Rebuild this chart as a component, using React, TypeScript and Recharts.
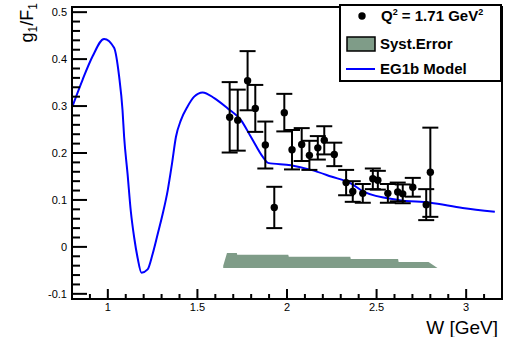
import React from "react";
import {
  ComposedChart,
  Line,
  Area,
  Scatter,
  ErrorBar,
  XAxis,
  YAxis,
} from "recharts";

// EG1b model curve
const modelW = [
  0.803, 0.859, 0.915, 0.979, 1.035, 1.063, 1.082, 1.091, 1.11, 1.128, 1.147, 1.166, 1.188,
  1.222, 1.25, 1.278, 1.306, 1.334, 1.358, 1.38, 1.408, 1.445, 1.482, 1.529, 1.594, 1.669,
  1.743, 1.799, 1.866, 1.894, 2.022, 2.134, 2.246, 2.358, 2.43, 2.62, 2.8, 2.98, 3.16,
];
const modelG = [
  0.3, 0.356, 0.406, 0.443, 0.424, 0.363, 0.291, 0.234, 0.156, 0.077, 0.02, -0.023, -0.055,
  -0.048, -0.015, 0.027, 0.07, 0.12, 0.177, 0.234, 0.27, 0.299, 0.32, 0.329, 0.317, 0.295,
  0.27, 0.234, 0.191, 0.179, 0.174, 0.164, 0.15, 0.135, 0.117, 0.1, 0.094, 0.083, 0.075,
];

// data points, Q^2 = 1.71 GeV^2
const dataW = [
  1.68, 1.725, 1.78, 1.823, 1.879, 1.929, 1.985, 2.028, 2.082, 2.125, 2.172, 2.208, 2.264,
  2.33, 2.367, 2.423, 2.479, 2.507, 2.563, 2.618, 2.646, 2.702, 2.777, 2.8,
];
const dataG = [
  0.276, 0.27, 0.354, 0.295, 0.217, 0.084, 0.286, 0.207, 0.218, 0.195, 0.211, 0.227, 0.197,
  0.137, 0.118, 0.114, 0.145, 0.142, 0.114, 0.117, 0.113, 0.127, 0.09, 0.159,
];
const dataErr = [
  0.075, 0.065, 0.063, 0.05, 0.05, 0.044, 0.04, 0.042, 0.035, 0.031, 0.025, 0.03, 0.025,
  0.027, 0.022, 0.02, 0.022, 0.02, 0.02, 0.02, 0.02, 0.02, 0.033, 0.095,
];

// systematic error band
const systW = [1.644, 1.665, 1.72, 1.722, 2.007, 2.01, 2.353, 2.356, 2.62, 2.623, 2.79, 2.84];
const systTop = [-0.04, -0.013, -0.013, -0.017, -0.017, -0.021, -0.021, -0.026, -0.026, -0.032, -0.032, -0.045];
const systBase = -0.045;

const xMajor = [1, 1.5, 2, 2.5, 3];
const yMajor = [-0.1, 0, 0.1, 0.2, 0.3, 0.4, 0.5];
const xDomain = [0.8, 3.2];
const yDomain = [-0.111, 0.511];

const xTicks: number[] = [];
for (let i = 8; i <= 32; i++) xTicks.push(i / 10);
const yTicks: number[] = [];
for (let i = -5; i <= 25; i++) yTicks.push(Math.round(i * 2) / 100);

const isMajor = (v: number, list: number[]) => list.some((m) => Math.abs(m - v) < 1e-6);

const modelData = modelW.map((w, i) => ({ w, g: modelG[i] }));
const pointData = dataW.map((w, i) => ({ w, g: dataG[i], err: dataErr[i] }));
const systData = systW.map((w, i) => ({ w, band: [systBase, systTop[i]] }));

// chart box
const W = 506;
const H = 337;
const margin = { top: 7, right: 4, left: 32, bottom: 8 };
const yAxisW = 40;
const xAxisH = 30;
const plotL = margin.left + yAxisW;
const plotR = W - margin.right;
const plotT = margin.top;
const plotB = H - margin.bottom - xAxisH;
const px = (v: number) => plotL + ((v - xDomain[0]) / (xDomain[1] - xDomain[0])) * (plotR - plotL);
const py = (v: number) => plotB - ((v - yDomain[0]) / (yDomain[1] - yDomain[0])) * (plotB - plotT);

const FONT = "'Liberation Sans', Arial, sans-serif";

function XTick({ x, y, payload }: any) {
  if (!isMajor(payload.value, xMajor)) return <g />;
  return (
    <text x={Number(x)} y={Number(y) + 12} textAnchor="middle" fontSize={11} fontFamily={FONT} fill="#000">
      {payload.value}
    </text>
  );
}

function YTick({ x, y, payload }: any) {
  if (!isMajor(payload.value, yMajor)) return <g />;
  return (
    <text x={Number(x) - 5} y={Number(y) + 4} textAnchor="end" fontSize={11} fontFamily={FONT} fill="#000">
      {Math.round(payload.value * 10) / 10}
    </text>
  );
}

function Dot({ cx, cy }: any) {
  return <circle cx={cx} cy={cy} r={3.7} fill="#000" />;
}

export default function App() {
  return (
    <div style={{ position: "absolute", left: 0, top: 0, width: W, height: H, background: "#fff" }}>
      <ComposedChart width={W} height={H} margin={margin}>
        <XAxis
          type="number"
          dataKey="w"
          domain={xDomain}
          ticks={xTicks}
          interval={0}
          allowDataOverflow
          tickSize={0}
          tickMargin={0}
          tickLine={false}
          height={xAxisH}
          axisLine={{ stroke: "#000", strokeWidth: 2 }}
          tick={<XTick />}
        />
        <YAxis
          type="number"
          domain={yDomain}
          ticks={yTicks}
          interval={0}
          allowDataOverflow
          tickSize={0}
          tickMargin={0}
          tickLine={false}
          width={yAxisW}
          axisLine={{ stroke: "#000", strokeWidth: 2 }}
          tick={<YTick />}
        />
        <Area
          data={systData}
          dataKey="band"
          type="linear"
          stroke="none"
          fill="#7f9c88"
          fillOpacity={1}
          isAnimationActive={false}
        />
        <Line
          data={modelData}
          dataKey="g"
          type="monotone"
          stroke="#0000ff"
          strokeWidth={2}
          dot={false}
          isAnimationActive={false}
        />
        <Scatter data={pointData} dataKey="g" shape={<Dot />} isAnimationActive={false}>
          <ErrorBar dataKey="err" direction="y" width={8} stroke="#000" strokeWidth={2} />
        </Scatter>
      </ComposedChart>
      <svg
        width={W}
        height={H}
        style={{ position: "absolute", left: 0, top: 0, pointerEvents: "none" }}
        fontFamily={FONT}
      >
        {/* frame and inward ROOT-style tick marks, drawn as thin filled bars */}
        <rect x={plotL} y={plotT} width={plotR - plotL} height={plotB - plotT} fill="none" stroke="#000" strokeWidth={2} />
        {xTicks.map((t) => {
          const len = isMajor(t, xMajor) ? 10 : 5;
          return <rect key={"x" + t} x={px(t) - 1} y={plotB - len} width={2} height={len} fill="#000" />;
        })}
        {yTicks.map((t) => {
          const len = isMajor(t, yMajor) ? 15 : 8;
          return <rect key={"y" + t} x={plotL} y={py(t) - 1} width={len} height={2} fill="#000" />;
        })}
        <text transform="translate(33,3) rotate(-90)" textAnchor="end" fontSize={18} fill="#000">
          g<tspan dy={4} fontSize={12}>1</tspan>
          <tspan dy={-4}>/F</tspan>
          <tspan dy={4} fontSize={12}>1</tspan>
        </text>
        <text x={498} y={334} textAnchor="end" fontSize={19} fill="#000">
          W [GeV]
        </text>
        <rect x={340} y={5} width={161} height={76} fill="#fff" stroke="#000" strokeWidth={2} />
        <circle cx={362} cy={16} r={3.7} fill="#000" />
        <text x={381} y={21} fontSize={15} fontWeight="bold" fill="#000">
          Q<tspan dy={-6} fontSize={9}>2</tspan>
          <tspan dy={6}> = 1.71 GeV</tspan>
          <tspan dy={-6} fontSize={9}>2</tspan>
        </text>
        <rect x={347} y={37} width={28} height={14} fill="#7f9c88" stroke="#000" strokeWidth={1.5} />
        <text x={380} y={49} fontSize={15} fontWeight="bold" fill="#000">
          Syst.Error
        </text>
        <line x1={346} x2={375} y1={69} y2={69} stroke="#0000ff" strokeWidth={2} />
        <text x={380} y={74} fontSize={15} fontWeight="bold" fill="#000">
          EG1b Model
        </text>
      </svg>
    </div>
  );
}
